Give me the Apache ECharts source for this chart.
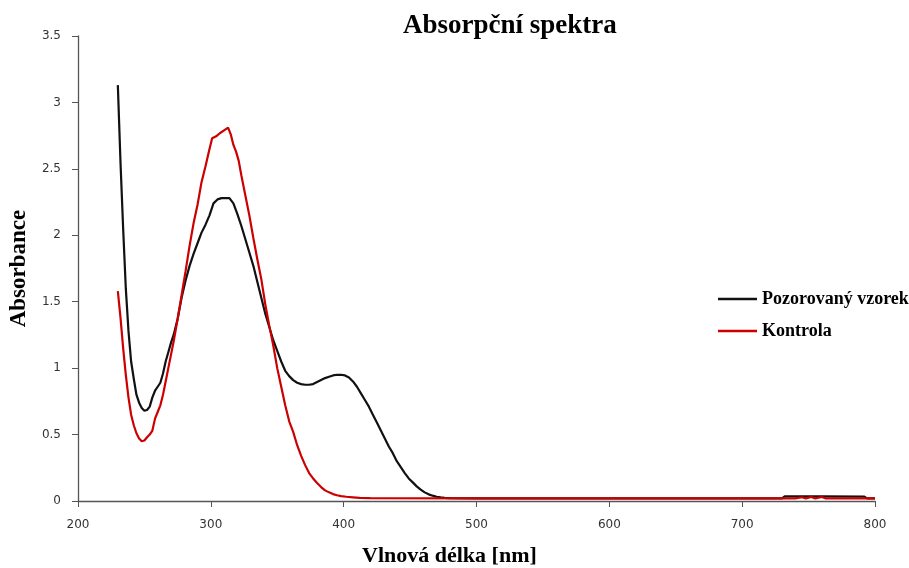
<!DOCTYPE html>
<html>
<head>
<meta charset="utf-8">
<script src="https://cdn.jsdelivr.net/npm/echarts@6/dist/echarts.min.js"></script>
<style>
  html, body { margin: 0; padding: 0; background: #fff; }
</style>
</head>
<body>
<div id="chart" style="width: 909px; height: 568px"></div>
<script>
// vlnové délky a absorbance - pozorovaný vzorek
const sampleNm = [230, 232, 234, 236, 238, 240, 242, 244, 246, 248, 250, 252, 254, 256, 258, 260, 262, 264, 266, 268, 270, 272,
  275, 278, 281, 284, 287, 290, 293, 296, 299, 302, 305, 308, 311, 314, 317, 320, 323, 326, 329, 332, 335, 338, 341, 344, 347,
  350, 353, 356, 359, 362, 365, 368, 371, 374, 377, 380, 383, 386, 389, 392, 395, 398, 401, 404, 407, 410, 413, 416, 419, 422,
  425, 428, 431, 434, 437, 440, 443, 446, 449, 452, 455, 458, 461, 464, 467, 470, 473, 476, 480, 500, 550, 600, 650, 700, 730,
  732, 760, 792, 794, 800]
const sampleAbs = [3.13, 2.55, 2.05, 1.6, 1.28, 1.05, 0.92, 0.8, 0.74, 0.7, 0.68, 0.685, 0.71, 0.78, 0.83, 0.86, 0.89, 0.96, 1.05, 1.12, 1.19, 1.25,
  1.37, 1.53, 1.66, 1.77, 1.86, 1.94, 2.02, 2.08, 2.15, 2.24, 2.27, 2.28, 2.28, 2.28, 2.24, 2.16, 2.07, 1.97, 1.87, 1.77, 1.65, 1.53, 1.41, 1.31, 1.21,
  1.13, 1.05, 0.98, 0.94, 0.91, 0.89, 0.88, 0.875, 0.875, 0.88, 0.895, 0.91, 0.925, 0.935, 0.945, 0.95, 0.95, 0.945, 0.93, 0.9, 0.86, 0.81, 0.76, 0.71, 0.65,
  0.59, 0.53, 0.47, 0.41, 0.36, 0.3, 0.255, 0.21, 0.17, 0.14, 0.11, 0.085, 0.065, 0.05, 0.04, 0.032, 0.027, 0.024, 0.022, 0.02, 0.02, 0.02, 0.02, 0.02, 0.02,
  0.035, 0.035, 0.033, 0.02, 0.02]

// kontrola
const controlNm = [230, 232, 234, 236, 238, 240, 242, 244, 246, 248, 250, 252, 254, 256, 258, 260, 262, 264, 266, 268, 270, 272,
  275, 278, 281, 284, 287, 290, 293, 296, 299, 301, 304, 307, 310, 313, 315, 317, 319, 321, 323, 326, 329, 332, 335, 338, 341,
  344, 347, 350, 353, 356, 359, 362, 365, 368, 371, 374, 377, 380, 383, 386, 389, 392, 395, 398, 402, 407, 412, 420, 500, 600,
  700, 740, 745, 748, 752, 755, 760, 763, 800]
const controlAbs = [1.58, 1.38, 1.15, 0.95, 0.78, 0.65, 0.57, 0.51, 0.47, 0.45, 0.455, 0.48, 0.5, 0.53, 0.62, 0.67, 0.72, 0.8, 0.9, 1.0, 1.1, 1.2,
  1.37, 1.55, 1.73, 1.92, 2.09, 2.23, 2.4, 2.52, 2.65, 2.73, 2.745, 2.77, 2.79, 2.81, 2.76, 2.68, 2.63, 2.56, 2.45, 2.3, 2.15, 1.98, 1.82, 1.67, 1.48,
  1.32, 1.17, 1.0, 0.86, 0.72, 0.6, 0.52, 0.42, 0.34, 0.27, 0.21, 0.17, 0.135, 0.105, 0.08, 0.065, 0.052, 0.043, 0.037, 0.032, 0.028, 0.024, 0.021, 0.02, 0.02,
  0.02, 0.02, 0.028, 0.02, 0.03, 0.02, 0.03, 0.02, 0.02]

const seriesNames = ['Pozorovaný vzorek', 'Kontrola']

const pairs = (xs, ys) => xs.map((x, i) => [x, ys[i]])

const myChart = echarts.init(document.getElementById('chart'))
const serif = '"Liberation Serif", "DejaVu Serif", serif'

const option = {
  animation: false,
  title: [
    {
      text: 'Absorpční spektra',
      left: 398,
      top: 8,
      textStyle: { fontFamily: serif, fontSize: 27, fontWeight: 'bold', color: '#000' }
    },
    {
      text: 'Vlnová délka [nm]',
      left: 357,
      top: 540,
      textStyle: { fontFamily: serif, fontSize: 22, fontWeight: 'bold', color: '#000' }
    }
  ],
  legend: {
    orient: 'vertical',
    left: 718,
    top: 290,
    padding: 0,
    icon: 'rect',
    itemWidth: 39,
    itemHeight: 2.5,
    itemGap: 14,
    data: seriesNames,
    textStyle: { fontFamily: serif, fontSize: 18, fontWeight: 'bold', color: '#000' }
  },
  grid: { left: 77, right: 34, top: 36, bottom: 67, containLabel: false },
  xAxis: {
    type: 'value',
    min: 200,
    max: 800,
    interval: 100,
    axisLine: { lineStyle: { color: '#555', width: 1.3 } },
    axisTick: { show: true, inside: false, length: 6, lineStyle: { color: '#555' } },
    axisLabel: { fontFamily: 'DejaVu Sans', fontSize: 12, color: '#333', margin: 18 },
    splitLine: { show: false }
  },
  yAxis: {
    type: 'value',
    min: 0,
    max: 3.5,
    interval: 0.5,
    name: 'Absorbance',
    nameLocation: 'middle',
    nameGap: 44,
    nameTextStyle: { fontFamily: serif, fontSize: 23, fontWeight: 'bold', color: '#000' },
    axisLine: { show: true, lineStyle: { color: '#555', width: 1.3 } },
    axisTick: { show: true, inside: false, length: 6, lineStyle: { color: '#555' } },
    axisLabel: { fontFamily: 'DejaVu Sans', fontSize: 12, color: '#333', margin: 17 },
    splitLine: { show: false }
  },
  series: [
    {
      name: seriesNames[0],
      type: 'line',
      showSymbol: false,
      symbol: 'none',
      data: pairs(sampleNm, sampleAbs),
      lineStyle: { color: '#111', width: 2.2 },
      itemStyle: { color: '#111' },
      z: 2
    },
    {
      name: seriesNames[1],
      type: 'line',
      showSymbol: false,
      symbol: 'none',
      data: pairs(controlNm, controlAbs),
      lineStyle: { color: '#cc0000', width: 2.2 },
      itemStyle: { color: '#cc0000' },
      z: 3
    }
  ]
}
option && myChart.setOption(option)
</script>
</body>
</html>
